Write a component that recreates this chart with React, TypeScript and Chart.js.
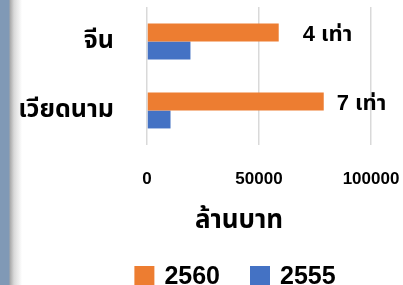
import React, { useEffect, useRef } from "react";
import { Chart, registerables } from "chart.js";

Chart.register(...registerables);

const categories = ["จีน", "เวียดนาม"];
const seriesNames = ["2560", "2555"];
const values2560 = [58800, 78900];
const values2555 = [19400, 10500];
const seriesColors = ["#ED7D31", "#4472C4"];
const ratioLabels = ["4 เท่า", "7 เท่า"];
const xTickStep = 50000;
const xMax = 100000;
const axisTitle = "ล้านบาท";

const FONT = '"Liberation Sans", Arimo, "Noto Sans Thai", Loma, Garuda, sans-serif';

const W = 403;
const H = 285;
const TRANSPARENT = "rgba(0,0,0,0)";

const ratioPlugin = {
  id: "ratioLabels",
  afterDatasetsDraw(chart: any) {
    const meta = chart.getDatasetMeta(0);
    const offsets = [24, 13];
    const ctx = chart.ctx;
    ctx.save();
    ctx.font = `bold 22px ${FONT}`;
    ctx.fillStyle = "#000";
    ctx.textAlign = "left";
    ctx.textBaseline = "alphabetic";
    meta.data.forEach((el: any, i: number) => {
      ctx.fillText(ratioLabels[i], el.x + offsets[i], el.y + 8);
    });
    ctx.restore();
  },
};

const titleLegendPlugin = {
  id: "titleLegend",
  afterDraw(chart: any) {
    const ctx = chart.ctx;
    ctx.save();
    ctx.fillStyle = "#000";
    ctx.font = `bold 26px ${FONT}`;
    ctx.textAlign = "center";
    ctx.textBaseline = "alphabetic";
    ctx.fillText(axisTitle, 239, 228);

    ctx.font = `bold 25px ${FONT}`;
    ctx.textAlign = "left";
    const box = 20;
    const gapBoxText = 10;
    const gapItems = 30;
    const widths = chart.data.datasets.map((d: any) => box + gapBoxText + ctx.measureText(d.label).width);
    const total = widths.reduce((a: number, b: number) => a + b, 0) + gapItems * (widths.length - 1);
    let x = 235 - total / 2;
    chart.data.datasets.forEach((d: any, i: number) => {
      ctx.fillStyle = d.backgroundColor;
      ctx.fillRect(x, 266, box, 19);
      ctx.fillStyle = "#000";
      ctx.fillText(d.label, x + box + gapBoxText, 284);
      x += widths[i] + gapItems;
    });
    ctx.restore();
  },
};

export default function App() {
  const ref = useRef<HTMLCanvasElement | null>(null);

  useEffect(() => {
    if (!ref.current) return;
    const chart = new Chart(ref.current, {
      type: "bar",
      data: {
        labels: categories,
        datasets: [
          { label: seriesNames[0], data: values2560, backgroundColor: seriesColors[0], categoryPercentage: 0.52, barPercentage: 1 },
          { label: seriesNames[1], data: values2555, backgroundColor: seriesColors[1], categoryPercentage: 0.52, barPercentage: 1 },
        ],
      },
      options: {
        indexAxis: "y",
        responsive: false,
        animation: false,
        devicePixelRatio: 1,
        layout: { padding: { top: 7, right: 32, left: 0, bottom: 0 } },
        plugins: { legend: { display: false }, tooltip: { enabled: false }, title: { display: false } },
        scales: {
          y: {
            grid: { display: true, drawOnChartArea: false, drawTicks: true, tickLength: 33, tickColor: TRANSPARENT },
            border: { display: false },
            ticks: { color: "#000", padding: 0, font: { family: FONT, size: 25, weight: "bold" } },
            afterFit: (s: any) => { s.width = 147; s.paddingTop = 0; s.paddingBottom = 0; },
          },
          x: {
            min: 0,
            max: xMax,
            grid: { color: "#d9d9d9", lineWidth: 1.5, drawTicks: true, tickLength: 24, tickColor: TRANSPARENT },
            border: { display: false },
            ticks: {
              stepSize: xTickStep,
              color: "#000",
              padding: 0,
              font: { family: FONT, size: 17, weight: "bold" },
              callback: (v: any) => String(v),
            },
            afterFit: (s: any) => { s.height = H - 7 - 138; s.paddingLeft = 0; s.paddingRight = 0; },
          },
        },
      },
      plugins: [ratioPlugin, titleLegendPlugin],
    } as any);
    return () => chart.destroy();
  }, []);

  return (
    <div style={{ position: "fixed", left: 0, top: 0, width: W, height: H, background: "#fff", overflow: "hidden" }}>
      <canvas ref={ref} width={W} height={H} style={{ position: "absolute", left: 0, top: 0, width: W, height: H }} />
      <div
        style={{
          position: "absolute",
          left: 0,
          top: 0,
          width: 22,
          height: H,
          background: "linear-gradient(to right, #8099b6 0px, #8099b6 9px, #a9a9a9 10px, #d8d8d8 14px, rgba(255,255,255,0) 22px)",
        }}
      />
    </div>
  );
}
